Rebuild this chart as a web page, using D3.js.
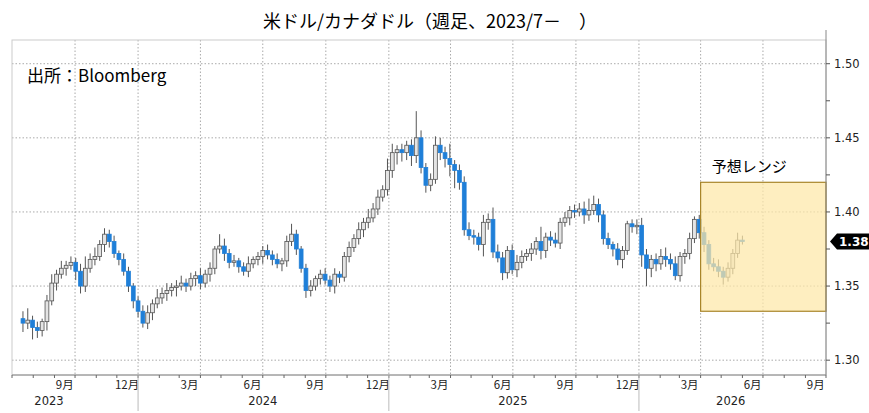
<!DOCTYPE html>
<html>
<head>
<meta charset="utf-8">
<script src="https://cdn.jsdelivr.net/npm/d3@7"></script>
<style>
  body { margin: 0; background: #fff; }
  text { font-family: "DejaVu Sans", sans-serif; }
  .jp { font-family: "Noto Sans CJK JP", sans-serif; }
</style>
</head>
<body>
<svg id="chart" width="869" height="413"></svg>
<script>
// weekly closes, Jul 2023 - May 2026
const closes = [
  1.325,1.327,1.322,1.320,1.326,1.340,1.352,1.358,1.362,1.364,1.366,1.360,1.350,1.362,1.368,1.370,1.378,1.385,1.380,1.372,1.368,1.360,1.350,1.340,1.333,1.325,
  1.332,1.338,1.342,1.345,1.347,1.349,1.350,1.352,1.350,1.355,1.357,1.352,1.358,1.362,1.375,1.377,1.372,1.366,1.367,1.363,1.360,1.365,1.368,1.370,1.374,1.371,
  1.368,1.365,1.367,1.380,1.385,1.375,1.362,1.347,1.350,1.355,1.358,1.354,1.350,1.358,1.356,1.370,1.376,1.382,1.388,1.393,1.396,1.402,1.410,1.415,1.428,1.440,
  1.442,1.440,1.445,1.438,1.450,1.430,1.418,1.422,1.445,1.440,1.436,1.432,1.428,1.420,1.388,1.384,1.383,1.378,1.393,1.395,1.373,1.369,1.359,1.374,1.361,1.366,
  1.370,1.372,1.375,1.380,1.374,1.383,1.381,1.379,1.393,1.396,1.401,1.400,1.402,1.398,1.401,1.405,1.398,1.382,1.378,1.375,1.368,1.374,1.392,1.390,1.391,1.371,
  1.362,1.368,1.365,1.370,1.368,1.365,1.357,1.370,1.372,1.382,1.395,1.386,1.378,1.365,1.363,1.360,1.356,1.362,1.372,1.381,1.380
];
const firstOpen = 1.328;
// wick lengths above/below the body, in 0.001
const upWick = [
  5,8,3,4,2,4,6,3,5,3,4,3,5,8,4,6,3,4,3,4,2,4,3,2,3,4,
  5,3,6,4,5,3,4,5,3,4,3,5,3,4,2,8,5,3,4,2,3,5,2,3,3,4,
  3,4,2,4,7,3,2,3,4,2,3,4,3,4,2,3,4,3,5,3,6,4,5,3,8,6,
  3,4,3,4,18,5,3,4,6,5,4,10,3,4,4,5,4,3,5,4,8,5,4,3,4,5,
  4,3,4,3,10,3,4,5,3,4,3,4,4,5,8,6,4,3,4,2,4,3,2,3,4,5,
  4,3,4,5,6,4,5,3,3,4,2,3,4,3,4,5,3,4,3,5,3
];
const lowWick = [
  6,4,8,5,4,6,3,5,3,5,3,6,5,4,3,4,3,5,4,3,4,3,4,5,4,3,
  4,5,3,4,5,4,6,3,4,3,5,4,3,5,4,3,5,4,3,4,3,4,3,4,5,3,
  4,3,5,4,3,4,3,5,4,3,4,3,4,5,4,3,4,3,4,5,4,3,4,3,4,5,
  8,6,5,7,5,4,5,4,3,5,6,8,12,5,4,3,5,4,8,5,4,3,5,4,3,5,
  4,3,5,4,6,5,4,3,4,3,5,4,3,6,4,3,5,4,3,5,4,6,3,4,5,8,
  12,6,5,4,5,4,3,4,5,4,3,4,5,4,3,4,5,3,4,3,2
];
const lastWeek = new Date(2026, 5, 1);
const yTicks = [1.30, 1.35, 1.40, 1.45, 1.50];
const yMinor = [1.325, 1.375, 1.425, 1.475];
const rangeLow = 1.333, rangeHigh = 1.420;
const rangeStart = new Date(2026, 3, 1), rangeEnd = new Date(2026, 9, 1);
const lastPrice = 1.38;
const years = [[2023, new Date(2023, 7, 24)], [2024, new Date(2024, 6, 1)], [2025, new Date(2025, 6, 1)], [2026, new Date(2026, 4, 15)]];

const n = closes.length;
const bars = closes.map((c, i) => {
  const o = i === 0 ? firstOpen : closes[i - 1];
  return {
    date: d3.timeDay.offset(lastWeek, -7 * (n - 1 - i)),
    o: o, c: c,
    h: Math.max(o, c) + upWick[i] / 1000,
    l: Math.min(o, c) - lowWick[i] / 1000
  };
});

const svg = d3.select("#chart");
const L = 12, R = 826, T = 40, B = 375;
const x = d3.scaleTime().domain([new Date(2023, 6, 1), new Date(2026, 9, 1)]).range([L, R]);
const y = d3.scaleLinear().domain([1.29, 1.516]).range([B, T]);

// grid
svg.append("g").selectAll("line").data(yTicks).join("line")
  .attr("x1", L).attr("x2", R).attr("y1", d => y(d)).attr("y2", d => y(d))
  .attr("stroke", "#aaa").attr("stroke-dasharray", "1.5,2");
const quarters = d3.timeMonth.range(new Date(2023, 9, 1), new Date(2026, 9, 1), 3);
svg.append("g").selectAll("line").data(quarters).join("line")
  .attr("x1", d => x(d)).attr("x2", d => x(d)).attr("y1", T).attr("y2", B)
  .attr("stroke", "#aaa").attr("stroke-dasharray", "1.5,2");

// frame
svg.append("rect").attr("x", L).attr("y", T).attr("width", R - L).attr("height", B - T)
  .attr("fill", "none").attr("stroke", "#ccc");

// candles
const bw = 3.8;
const g = svg.append("g");
g.selectAll("line").data(bars).join("line")
  .attr("x1", d => x(d.date)).attr("x2", d => x(d.date))
  .attr("y1", d => y(d.h)).attr("y2", d => y(d.l))
  .attr("stroke", "#555").attr("stroke-width", 1);
g.selectAll("rect").data(bars).join("rect")
  .attr("x", d => x(d.date) - bw / 2).attr("width", bw)
  .attr("y", d => y(Math.max(d.o, d.c)))
  .attr("height", d => Math.max(1, Math.abs(y(d.o) - y(d.c))))
  .attr("fill", d => d.c >= d.o ? "#e4e4e4" : "#1f7fd8")
  .attr("stroke", d => d.c >= d.o ? "#555" : "#1f7fd8").attr("stroke-width", 0.8);

// forecast range
svg.append("rect")
  .attr("x", x(rangeStart)).attr("width", x(rangeEnd) - x(rangeStart))
  .attr("y", y(rangeHigh)).attr("height", y(rangeLow) - y(rangeHigh))
  .attr("fill", "#fde7a8").attr("fill-opacity", 0.72)
  .attr("stroke", "#a8852a").attr("stroke-width", 1.2);
svg.append("text").attr("class", "jp").attr("x", (x(rangeStart) + x(rangeEnd)) / 2 - 14).attr("y", 172)
  .attr("text-anchor", "middle").attr("font-size", 15).text("予想レンジ");

// right axis
svg.append("line").attr("x1", R).attr("x2", R).attr("y1", T - 10).attr("y2", B).attr("stroke", "#888");
svg.append("g").selectAll("line").data(yTicks.concat(yMinor)).join("line")
  .attr("x1", R).attr("x2", R + 4).attr("y1", d => y(d)).attr("y2", d => y(d)).attr("stroke", "#555");
svg.append("g").selectAll("text").data(yTicks).join("text")
  .attr("x", R + 8).attr("y", d => y(d) + 4).attr("font-size", 11.5).attr("fill", "#222")
  .text(d => d3.format(".2f")(d));

// last price tag
const ly = y(lastPrice);
svg.append("path")
  .attr("d", `M${R + 4},${ly} L${R + 11},${ly - 8} L869,${ly - 8} L869,${ly + 8} L${R + 11},${ly + 8} Z`)
  .attr("fill", "#000");
svg.append("text").attr("x", R + 13).attr("y", ly + 4.5).attr("font-size", 12)
  .attr("font-weight", "bold").attr("fill", "#fff").text(d3.format(".2f")(lastPrice));

// bottom axis
svg.append("line").attr("x1", L).attr("x2", R).attr("y1", B).attr("y2", B).attr("stroke", "#888");
const months = d3.timeMonth.range(new Date(2023, 6, 1), new Date(2026, 9, 2));
svg.append("g").selectAll("line").data(months).join("line")
  .attr("x1", d => x(d)).attr("x2", d => x(d)).attr("y1", B).attr("y2", B + 3).attr("stroke", "#666");
const labelMonths = months.filter(d => [2, 5, 8, 11].includes(d.getMonth()));
svg.append("g").selectAll("text").data(labelMonths).join("text")
  .attr("class", "jp")
  .attr("x", d => x(d3.timeDay.offset(d, 15))).attr("y", B + 14)
  .attr("text-anchor", "middle").attr("font-size", 11.5).attr("fill", "#222")
  .text(d => (d.getMonth() + 1) + "月");
const jans = [new Date(2024, 0, 1), new Date(2025, 0, 1), new Date(2026, 0, 1)];
svg.append("g").selectAll("line").data(jans).join("line")
  .attr("x1", d => x(d)).attr("x2", d => x(d)).attr("y1", B).attr("y2", 411).attr("stroke", "#bbb");
svg.append("g").selectAll("text").data(years).join("text")
  .attr("x", d => x(d[1])).attr("y", 405).attr("text-anchor", "middle")
  .attr("font-size", 11.5).attr("fill", "#222").text(d => d[0]);

// titles
svg.append("text").attr("class", "jp").attr("x", 430).attr("y", 28).attr("text-anchor", "middle")
  .attr("font-size", 18).text("米ドル/カナダドル（週足、2023/7－　）");
svg.append("text").attr("class", "jp").attr("x", 27).attr("y", 82)
  .attr("font-size", 17).text("出所：Bloomberg");
</script>
</body>
</html>
